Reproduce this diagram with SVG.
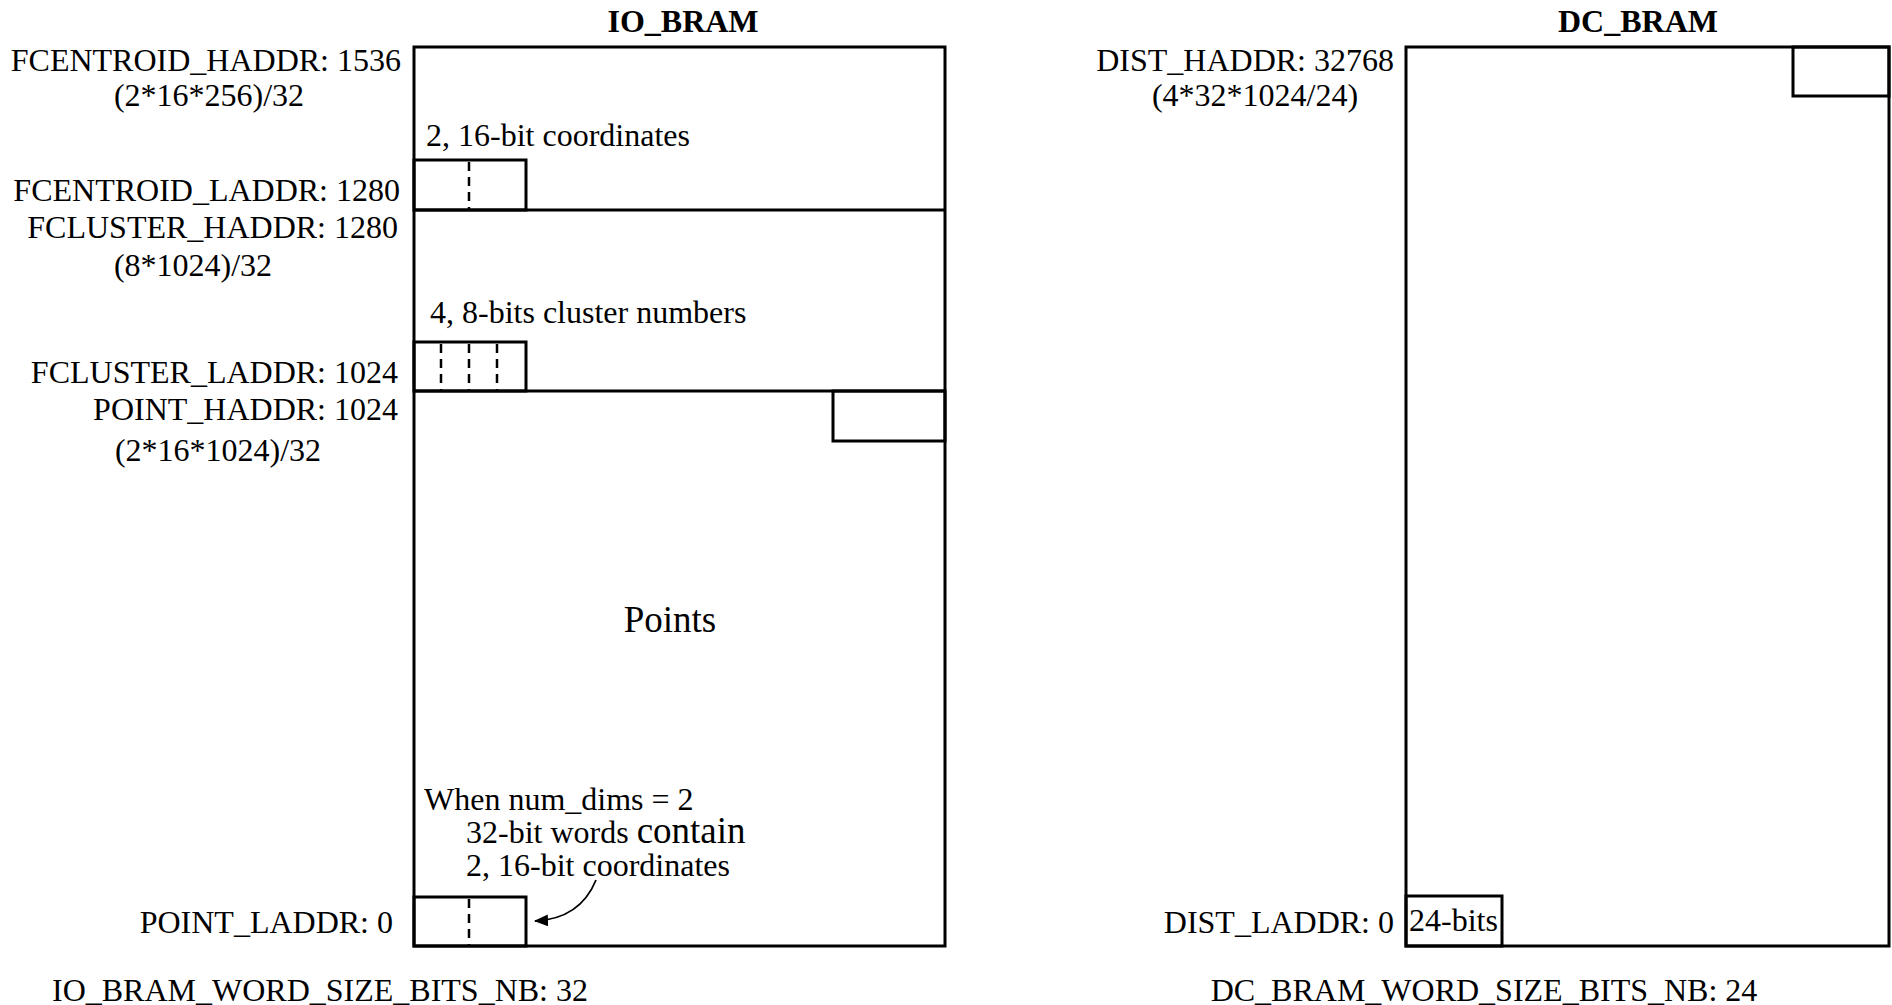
<svg xmlns="http://www.w3.org/2000/svg" width="1892" height="1005" viewBox="0 0 1892 1005">
<style>
  text { font-family: "Liberation Serif", "Times New Roman", serif; font-size: 32px; fill: #000; }
  .title { font-weight: bold; text-anchor: middle; }
  .end { text-anchor: end; }
  .mid { text-anchor: middle; }
  .box { fill: none; stroke: #000; stroke-width: 3; }
  .dash { fill: none; stroke: #000; stroke-width: 2.5; stroke-dasharray: 9 6; }
  .conn { fill: none; stroke: #000; stroke-width: 1.8; }
</style>
<defs>
  <marker id="arrow" markerWidth="14" markerHeight="12" refX="13" refY="6" orient="auto" markerUnits="userSpaceOnUse">
    <path d="M0,0 L14,6 L0,12 Z" fill="#000"/>
  </marker>
</defs>
<rect width="1892" height="1005" fill="#fff"/>

<g id="io_bram">
  <text class="title" x="683" y="32">IO_BRAM</text>
  <rect class="box" x="414" y="47" width="531" height="899"/>
  <line class="box" x1="414" y1="210" x2="945" y2="210"/>
  <line class="box" x1="414" y1="391" x2="945" y2="391"/>
  <text x="426" y="146">2, 16-bit coordinates</text>
  <text x="430" y="323">4, 8-bits cluster numbers</text>
  <text class="mid" x="670" y="632" style="font-size:37px">Points</text>
  <text x="424" y="810">When num_dims = 2</text>
  <text x="466" y="843">32-bit words <tspan style="font-size:37px">contain</tspan></text>
  <text x="466" y="876">2, 16-bit coordinates</text>
</g>

<g id="fcentroid_word">
  <rect class="box" x="414" y="160" width="112" height="50"/>
  <line class="dash" x1="469" y1="162" x2="469" y2="209"/>
</g>

<g id="fcluster_word">
  <rect class="box" x="414" y="342" width="112" height="49"/>
  <line class="dash" x1="441" y1="344" x2="441" y2="390"/>
  <line class="dash" x1="469" y1="344" x2="469" y2="390"/>
  <line class="dash" x1="497" y1="344" x2="497" y2="390"/>
</g>

<g id="point_top_word">
  <rect class="box" x="833" y="391" width="112" height="50"/>
</g>

<g id="point_bottom_word">
  <rect class="box" x="414" y="897" width="112" height="49"/>
  <line class="dash" x1="469" y1="899" x2="469" y2="945"/>
</g>

<g id="io_labels">
  <text class="end" x="401" y="71">FCENTROID_HADDR: 1536</text>
  <text class="mid" x="209" y="106">(2*16*256)/32</text>
  <text class="end" x="400" y="201">FCENTROID_LADDR: 1280</text>
  <text class="end" x="398" y="238">FCLUSTER_HADDR: 1280</text>
  <text class="mid" x="193" y="276">(8*1024)/32</text>
  <text class="end" x="398" y="383">FCLUSTER_LADDR: 1024</text>
  <text class="end" x="398" y="420">POINT_HADDR: 1024</text>
  <text class="mid" x="218" y="461">(2*16*1024)/32</text>
  <text class="end" x="393" y="933">POINT_LADDR: 0</text>
  <text class="mid" x="320" y="1001">IO_BRAM_WORD_SIZE_BITS_NB: 32</text>
</g>

<g id="dc_bram">
  <text class="title" x="1638" y="32">DC_BRAM</text>
  <rect class="box" x="1406" y="47" width="483" height="899"/>
</g>

<g id="dist_top_word">
  <rect class="box" x="1793" y="47" width="96" height="49"/>
</g>

<g id="dist_bottom_word">
  <rect class="box" x="1406" y="896" width="96" height="50"/>
  <text x="1409" y="931">24-bits</text>
</g>

<g id="dc_labels">
  <text class="end" x="1394" y="71">DIST_HADDR: 32768</text>
  <text class="mid" x="1255" y="106">(4*32*1024/24)</text>
  <text class="end" x="1394" y="933">DIST_LADDR: 0</text>
  <text class="mid" x="1484" y="1001">DC_BRAM_WORD_SIZE_BITS_NB: 24</text>
</g>

<g id="connectors">
  <path class="conn" d="M596,880 Q580,919 535,921" marker-end="url(#arrow)"/>
</g>
</svg>
